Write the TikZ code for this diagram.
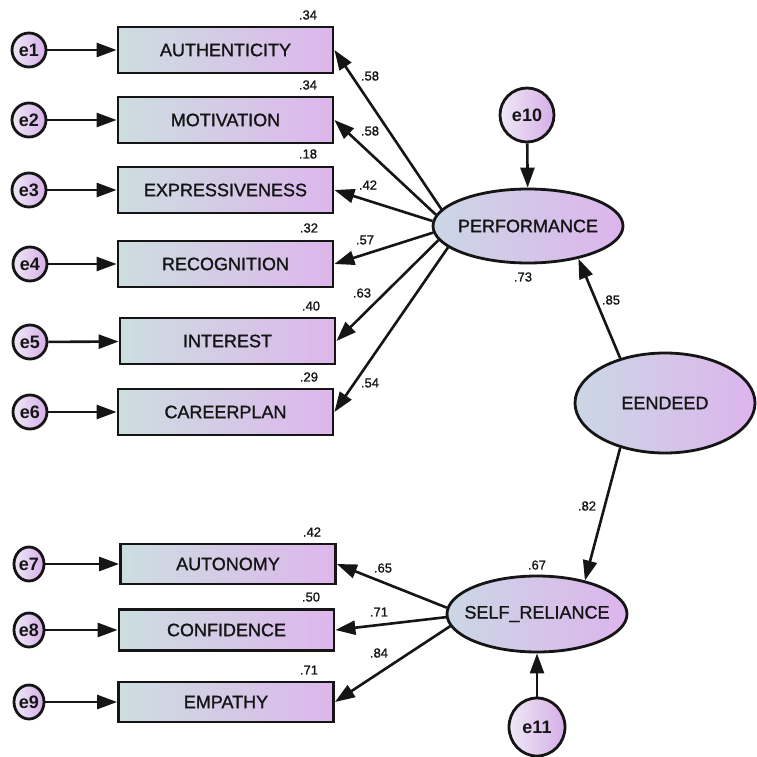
\documentclass[tikz,border=0pt]{standalone}
\usepackage{fontspec}
\setmainfont{Liberation Sans}
\newfontfamily\semib[FakeBold=1.2]{Liberation Sans}
\usetikzlibrary{arrows.meta,shapes.geometric}
\definecolor{boxL}{HTML}{CCDEE0}
\definecolor{boxR}{HTML}{DDB6EC}
\definecolor{ellL}{HTML}{CBD7E5}
\definecolor{ellR}{HTML}{DDB4EC}
\definecolor{errL}{HTML}{EFE8F5}
\definecolor{errR}{HTML}{D6AEE8}
\definecolor{ink}{HTML}{151515}
\begin{document}
\begin{tikzpicture}[x=1pt,y=-1pt,
  obs/.style={draw=ink, line width=2.8pt, rectangle, minimum width=215pt, minimum height=46pt,
    left color=boxL, right color=boxR, inner sep=0pt, text=ink, font=\semib\fontsize{18}{20}\selectfont},
  lat/.style={draw=ink, ellipse, line width=2.8pt, left color=ellL, right color=ellR,
    inner sep=0pt, text=ink, font=\semib\fontsize{18}{20}\selectfont},
  err/.style={draw=ink, ellipse, line width=2.8pt, left color=errL, right color=errR,
    inner sep=0pt, minimum width=34pt, minimum height=34pt, text=ink, font=\bfseries\fontsize{18}{19}\selectfont},
  lbl/.style={text=ink, font=\semib\fontsize{13}{14}\selectfont, inner sep=0pt},
  arr/.style={draw=ink, line width=2.6pt, -{Triangle[length=20pt,width=14pt]}},
]
\useasboundingbox (0,0) rectangle (756,757);

% observed variables
\node[obs] (AUTH) at (225.5,50) {AUTHENTICITY};
\node[obs] (MOT) at (225.5,120) {MOTIVATION};
\node[obs] (EXPR) at (225.5,190) {EXPRESSIVENESS};
\node[obs] (RECOG) at (225.5,264) {RECOGNITION};
\node[obs] (INT) at (227.5,341) {INTEREST};
\node[obs] (CAREER) at (225.5,412) {CAREERPLAN};
\node[obs, minimum height=40pt] (AUTON) at (228,564) {AUTONOMY};
\node[obs, minimum height=41pt] (CONF) at (226.5,630) {CONFIDENCE};
\node[obs, minimum height=40pt] (EMP) at (226,702) {EMPATHY};

% error terms
\node[err] (e1) at (29,50) {e1};
\node[err] (e2) at (29,120) {e2};
\node[err] (e3) at (29,190) {e3};
\node[err] (e4) at (30,264) {e4};
\node[err] (e5) at (30,342) {e5};
\node[err] (e6) at (30,412) {e6};
\node[err, minimum width=30pt] (e7) at (29,564) {e7};
\node[err, minimum width=30pt] (e8) at (29,630) {e8};
\node[err, minimum width=30pt] (e9) at (29,702) {e9};
\node[err, minimum width=54pt, minimum height=54pt] (e10) at (527,115) {e10};
\node[err, minimum width=56pt, minimum height=58pt] (e11) at (537,727) {e11};

% latent variables
\node[lat, minimum width=190pt, minimum height=74pt] (PERF) at (528,226) {\makebox[0pt]{PERFORMANCE}};
\node[lat, minimum width=180pt, minimum height=100pt] (EEN) at (665,403) {\makebox[0pt]{EENDEED}};
\node[lat, minimum width=180pt, minimum height=76pt] (SR) at (537,614) {\makebox[0pt]{SELF\_RELIANCE}};

% error arrows
\foreach \e/\b in {e1/AUTH,e2/MOT,e3/EXPR,e4/RECOG,e5/INT,e6/CAREER,e7/AUTON,e8/CONF,e9/EMP}
  \draw[arr] (\e) -- (\b);
\draw[arr] (e10) -- (PERF);
\draw[arr] (e11) -- (SR);

% loadings
\draw[arr] (PERF.169) -- (AUTH.east);
\draw[arr] (PERF.173) -- (MOT.east);
\draw[arr] (PERF.177) -- (EXPR.east);
\draw[arr] (PERF.184) -- (RECOG.east);
\draw[arr] (PERF.189) -- (INT.east);
\draw[arr] (PERF.195) -- (CAREER.east);
\draw[arr] (SR.176) -- (AUTON.east);
\draw[arr] (SR.182) -- (CONF.east);
\draw[arr] (SR.188) -- (EMP.east);

% structural paths
\draw[arr] (EEN.135) -- (PERF.-33);
\draw[arr] (EEN.225) -- (SR.35);

% squared multiple correlations
\node[lbl] (r1) at (308,15) {.34};
\node[lbl] (r2) at (308,85) {.34};
\node[lbl] (r3) at (308,154) {.18};
\node[lbl] (r4) at (309,228) {.32};
\node[lbl] (r5) at (311,306) {.40};
\node[lbl] (r6) at (309,377) {.29};
\node[lbl] (r7) at (312,532) {.42};
\node[lbl] (r8) at (311,597) {.50};
\node[lbl] (r9) at (309,670) {.71};
\node[lbl] (rP) at (523,277) {.73};
\node[lbl] (rS) at (537,565) {.67};

% path coefficients
\node[lbl] (w1) at (370,76) {.58};
\node[lbl] (w2) at (370,131) {.58};
\node[lbl] (w3) at (368,185) {.42};
\node[lbl] (w4) at (365,240) {.57};
\node[lbl] (w5) at (362,293) {.63};
\node[lbl] (w6) at (370,383) {.54};
\node[lbl] (w7) at (383,568) {.65};
\node[lbl] (w8) at (379,612) {.71};
\node[lbl] (w9) at (379,653) {.84};
\node[lbl] (w10) at (611,300) {.85};
\node[lbl] (w11) at (587,506) {.82};
\end{tikzpicture}
\end{document}
